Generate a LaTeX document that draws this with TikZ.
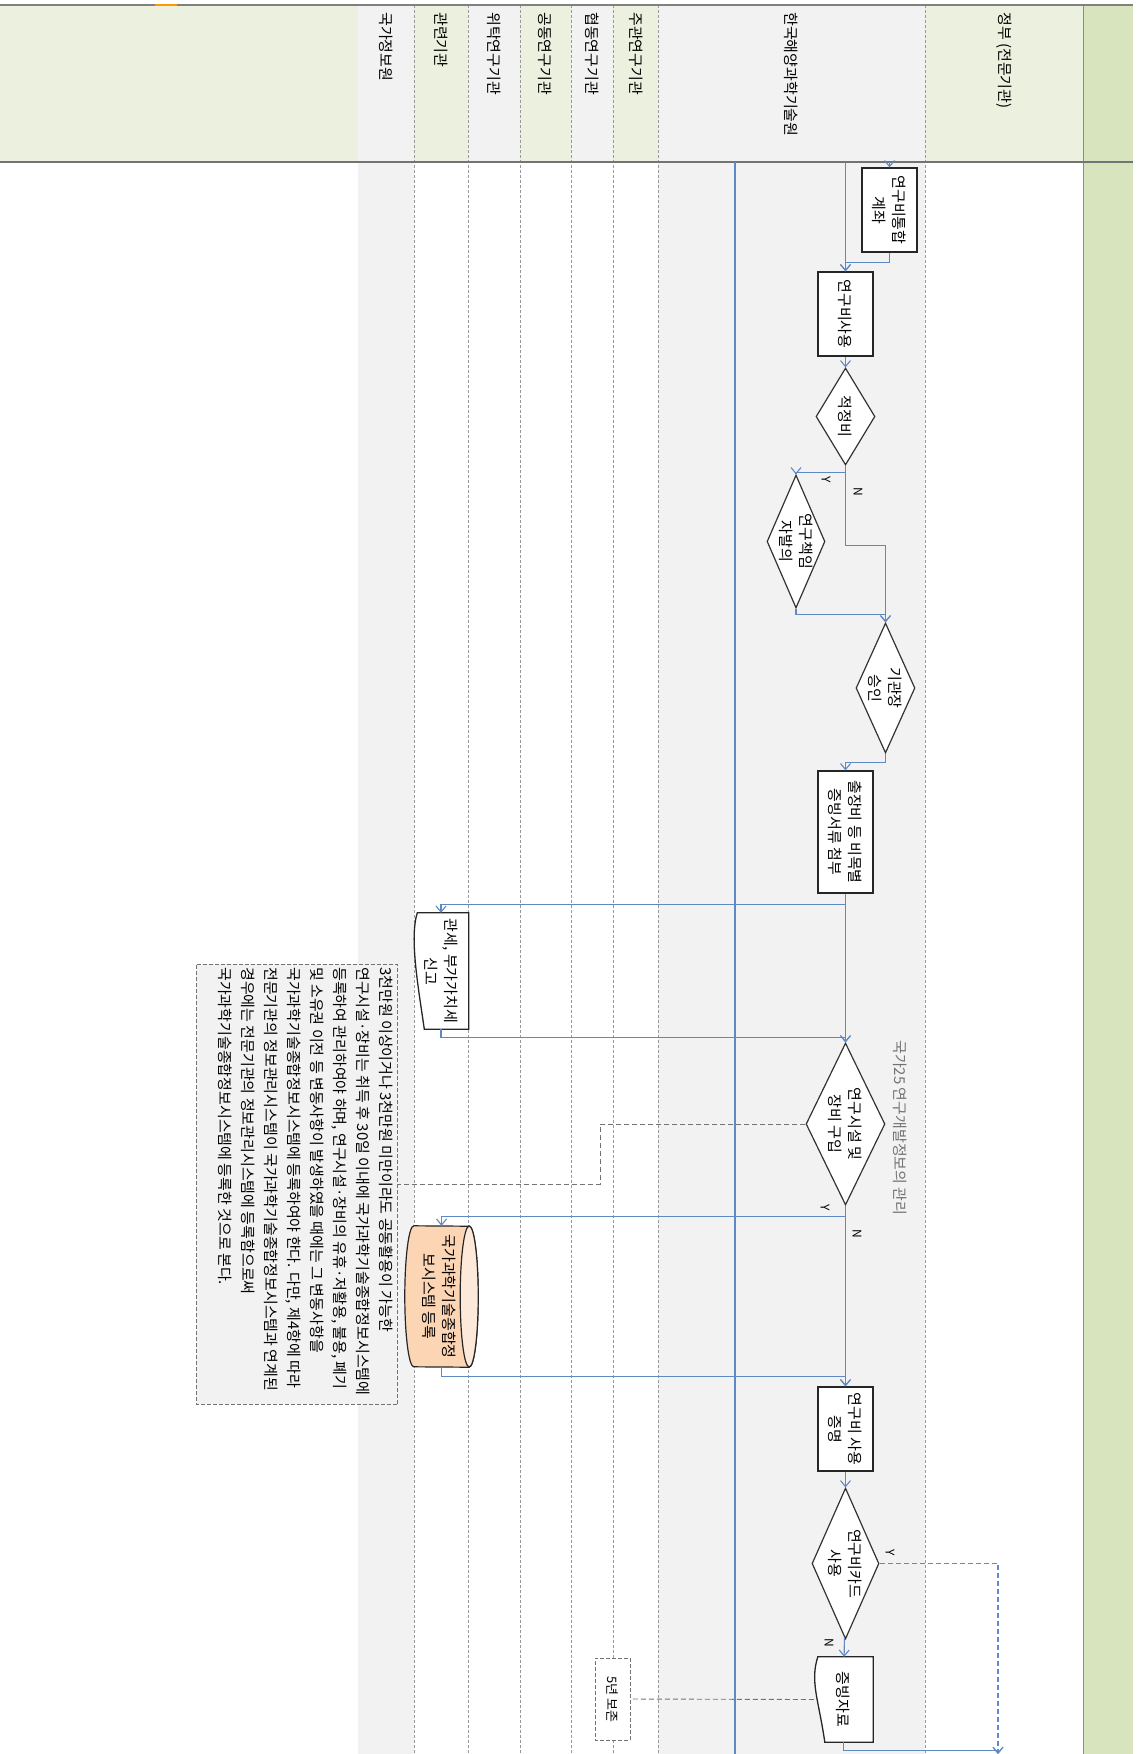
\documentclass[tikz,border=0pt]{standalone}
\usepackage{fontspec}
\setmainfont{Noto Sans CJK KR}
\usetikzlibrary{arrows.meta,shapes.geometric}

\definecolor{hdrgreen}{HTML}{EBF1DE}
\definecolor{lanegray}{HTML}{F2F2F2}
\definecolor{sidegreen}{HTML}{D7E4BD}
\definecolor{flowblue}{RGB}{95,137,197}
\definecolor{dbbody}{HTML}{FCD5B4}
\definecolor{dbtop}{HTML}{FDE9D9}

\newcommand\flowfont{\fontsize{15}{20}\selectfont}
\newcommand\notefont{\fontsize{15}{23}\selectfont}
\newcommand\ynfont{\fontsize{12}{14}\selectfont}
\newcommand\keepfont{\fontsize{13}{15}\selectfont}

% document shape: wavy lower edge
\newcommand\docedge[1]{%
  \filldraw[shapeline] ([yshift=11]#1.south east) -- (#1.north east) -- (#1.north west)
    -- ([yshift=4]#1.south west) .. controls +(25,-8) and +(-42,-6) .. ([yshift=11]#1.south east) -- cycle;}

\begin{document}
\begin{tikzpicture}[x=1pt,y=1pt,
  flow/.style={draw=flowblue,line width=1.1,-{Straight Barb[length=6pt,width=10pt]}},
  flowline/.style={draw=flowblue,line width=1.1},
  dashline/.style={draw=black!55,line width=0.9,dash pattern=on 5pt off 3pt},
  laneline/.style={draw=black!40,line width=0.7,dash pattern=on 3pt off 2pt},
  procbox/.style={rectangle,draw=black!85,line width=1.3,fill=white,inner sep=0,align=center,font=\flowfont},
  decision/.style={diamond,aspect=2.3,draw=black!80,line width=1.2,fill=white,inner sep=0,align=center,font=\flowfont},
  docbox/.style={rectangle,inner sep=0},
  shapeline/.style={draw=black!85,line width=1.3,fill=white},
  keepbox/.style={rectangle,draw=black!55,dash pattern=on 4pt off 2pt,line width=0.9,fill=white,inner sep=0,font=\keepfont},
  notebox/.style={rectangle,draw=black!55,dash pattern=on 4pt off 2pt,line width=0.9,fill=lanegray,inner sep=0},
  notetext/.style={align=left,inner sep=0,font=\notefont},
  lanelabel/.style={anchor=west,inner sep=0,font=\flowfont},
  flowtext/.style={align=center,inner sep=0,font=\flowfont},
  yn/.style={inner sep=0,font=\ynfont}]
\begin{scope}[rotate=-90,transform shape]
  \useasboundingbox (0,0) rectangle (1754,1140);

  % lanes
  \fill[hdrgreen] (5,0) rectangle (162,358);
  \fill[lanegray] (5,358) rectangle (1754,414);
  \fill[hdrgreen] (5,414) rectangle (162,468);
  \fill[lanegray] (5,468) rectangle (162,520);
  \fill[hdrgreen] (5,520) rectangle (162,571);
  \fill[lanegray] (5,571) rectangle (162,613);
  \fill[hdrgreen] (5,613) rectangle (162,658);
  \fill[lanegray] (5,658) rectangle (1754,925);
  \fill[hdrgreen] (5,925) rectangle (162,1083);
  \fill[sidegreen] (5,1083) rectangle (1754,1133);
  \draw[laneline] (5,414) -- (1754,414);
  \draw[laneline] (5,468) -- (1754,468);
  \draw[laneline] (5,520) -- (1754,520);
  \draw[laneline] (5,571) -- (1754,571);
  \draw[laneline] (5,613) -- (1754,613);
  \draw[laneline] (5,658) -- (1754,658);
  \draw[laneline] (5,925) -- (1754,925);
  \draw[black!45,line width=0.8] (5,1083) -- (1754,1083);
  \draw[black!50,line width=1.2] (5,0) -- (5,1133);
  \draw[black!55,line width=1.4] (162,0) -- (162,1133);
  \draw[orange!80!yellow,line width=2] (5,155) -- (5,177);

  \node[lanelabel] (lnis) at (12,386) {국가정보원};
  \node[lanelabel] (lrel) at (12,441) {관련기관};
  \node[lanelabel] (lcon) at (12,494) {위탁연구기관};
  \node[lanelabel] (ljoi) at (12,545) {공동연구기관};
  \node[lanelabel] (lcoo) at (12,592) {협동연구기관};
  \node[lanelabel] (lmai) at (12,636) {주관연구기관};
  \node[lanelabel] (lkio) at (12,791) {한국해양과학기술원};
  \node[lanelabel] (lgov) at (12,1004) {정부 (전문기관)};

  \coordinate (lineTop) at (162,735);
  \coordinate (lineBot) at (1754,735);
  \draw[flowline] (lineTop) -- (lineBot);

  % steps
  \node[procbox,minimum width=84,minimum height=55] (acct) at (210,889.5) {연구비통합\\계좌};
  \node[procbox,minimum width=84,minimum height=55] (use) at (314,845.5) {연구비사용};
  \node[decision,minimum width=97,minimum height=59] (chk) at (416.5,845.5) {적정비};
  \node[decision,minimum width=133,minimum height=58] (pi) at (541.5,796) {연구책임\\자발의};
  \node[decision,minimum width=130,minimum height=59] (head) at (688,885.5) {기관장\\승인};
  \node[procbox,minimum width=122,minimum height=55] (trip) at (832,845.5) {출장비 등 비목별\\증빙서류 첨부};
  \node[docbox,minimum width=116,minimum height=55] (tax) at (971,441) {};
  \docedge{tax}
  \node[flowtext] (taxtxt) at (tax) {관세, 부가가치세\\신고};
  \node[decision,minimum width=162,minimum height=79] (rd) at (1124,845.5) {연구시설 및\\장비 구입};
  \node[anchor=west,inner sep=0,font=\flowfont,text=black!55] (rdlab) at (1040,900) {국가25 연구개발정보의 관리};

  \node[notebox,minimum width=440,minimum height=201] (note) at (1184,296.5) {};
  \node[notetext,anchor=north west] (notetxt) at (967,393) {3천만원 이상이거나 3천만원 미만이라도 공동활용이 가능한\\
    연구시설·장비는 취득 후 30일 이내에 국가과학기술종합정보시스템에\\
    등록하여 관리하여야 하며, 연구시설·장비의 유휴·저활용, 불용, 폐기\\
    및 소유권 이전 등 변동사항이 발생하였을 때에는 그 변동사항을\\
    국가과학기술종합정보시스템에 등록하여야 한다. 다만, 제4항에 따라\\
    전문기관의 정보관리시스템이 국가과학기술종합정보시스템과 연계된\\
    경우에는 전문기관의 정보관리시스템에 등록함으로써\\
    국가과학기술종합정보시스템에 등록한 것으로 본다.};

  \node[docbox,minimum width=141,minimum height=73] (db) at (1296.5,441.5) {};
  \filldraw[draw=black!85,line width=1.2,fill=dbbody] ([yshift=9]db.south west)
    arc[start angle=180,end angle=360,x radius=70.5,y radius=9] -- ([yshift=-9]db.north east)
    arc[start angle=0,end angle=180,x radius=70.5,y radius=9] -- cycle;
  \filldraw[draw=black!85,line width=1.2,fill=dbtop] ([yshift=-9]db.north) ellipse[x radius=70.5,y radius=9];
  \node[flowtext] (dbtxt) at ([yshift=-2]db.center) {국가과학기술종합정\\보시스템 등록};

  \node[procbox,minimum width=84,minimum height=55] (proof) at (1429,845.5) {연구비 사용\\증명};
  \node[decision,minimum width=151,minimum height=67] (card) at (1563.5,845.5) {연구비카드\\사용};
  \node[docbox,minimum width=85,minimum height=59] (evid) at (1699.5,843.5) {};
  \docedge{evid}
  \node[flowtext] (evidtxt) at (evid) {증빙자료};
  \node[keepbox,minimum width=82,minimum height=35] (keep) at (1699,612.5) {5년 보존};

  \node[yn] (y1) at (480,826) {Y};
  \node[yn] (n1) at (492,858) {N};
  \node[yn] (y2) at (1208,825) {Y};
  \node[yn] (n2) at (1234,857) {N};
  \node[yn] (y3) at (1553,890) {Y};
  \node[yn] (n3) at (1643,829) {N};

  % connectors
  \coordinate (acctin) at (162,889.5);
  \coordinate (usein) at (162,845.5);
  \coordinate (cardout) at (1754,998);
  \draw[flow] (acctin) -- (acct);
  \draw[flow] (usein) -- (use);
  \draw[flow] (acct.east) -- ++(10,0) |- (use.west);
  \draw[flow] (use) -- (chk);
  \draw[flow] (chk.east) -- ++(7,0) |- (pi.west);
  \draw[flow] (chk.east) -- ++(80,0) |- (head.west);
  \draw[flow] (pi.east) -- ++(6,0) |- (head.west);
  \draw[flow] (head.east) -- ++(9,0) |- (trip.west);
  \draw[flow] (trip) -- (rd);
  \draw[flow] (trip.east) -- ++(11,0) |- (tax.west);
  \draw[flow] (tax.east) -- ++(8,0) |- (rd.west);
  \draw[dashline] (rd.south) -- ++(0,-205) -| (note.north);
  \draw[flow] (rd.east) -- ++(11,0) |- (db.west);
  \draw[flow] (rd) -- (proof);
  \draw[flow] (db.east) -- ++(9,0) |- (proof.west);
  \draw[flow] (proof) -- (card);
  \draw[flow,dash pattern=on 5pt off 3pt] (card.north) |- (cardout);
  \draw[flow] (card) -- (evid);
  \draw[flow] (evid.east) -- ++(8,0) |- (cardout);
  \draw[dashline] (evid.south) -- (keep.north);
\end{scope}
\end{tikzpicture}
\end{document}
